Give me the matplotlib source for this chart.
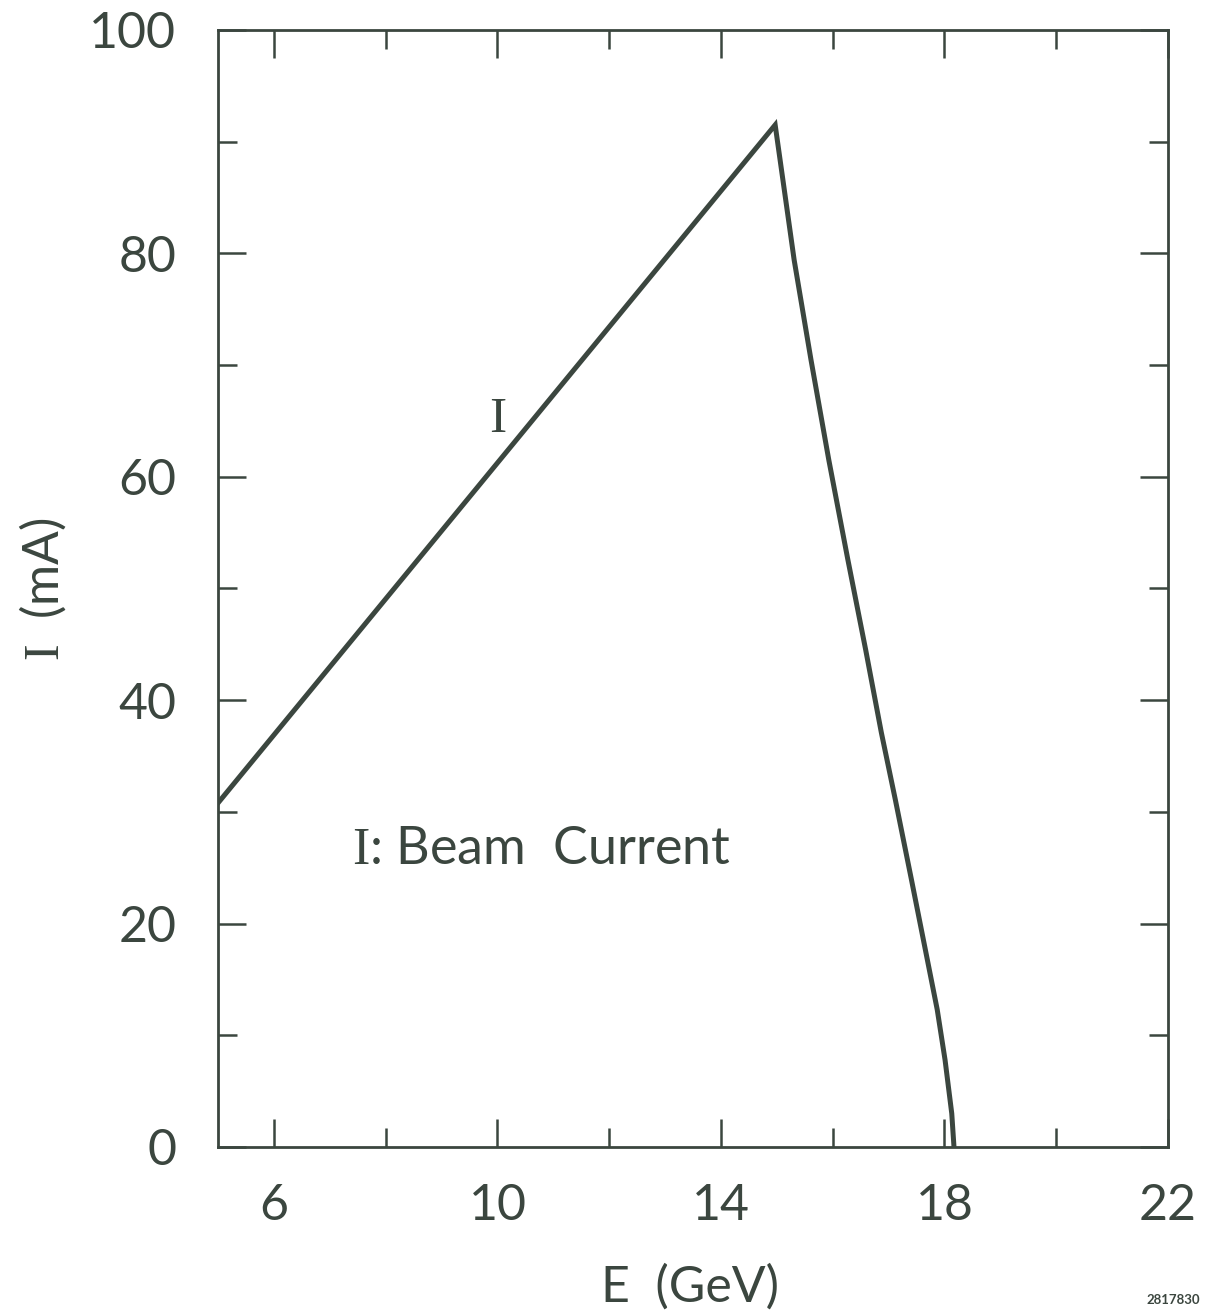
import matplotlib
matplotlib.use("Agg")
import matplotlib.pyplot as plt
from matplotlib.ticker import FixedLocator

# beam current vs energy
energy = [5.0, 14.97, 15.31, 15.61, 15.93, 16.27, 16.59, 16.87, 17.12,
          17.41, 17.66, 17.87, 18.01, 18.13, 18.17]
current = [30.8, 91.5, 79.4, 70.5, 61.5, 52.6, 44.5, 37.1, 31.1,
           23.9, 17.6, 12.3, 7.8, 3.0, 0.0]

x_major = [6, 10, 14, 18, 22]
x_minor = [8, 12, 16, 20]
x_labels = ["6", "10", "14", "18", "22"]
y_major = [0, 20, 40, 60, 80, 100]
y_minor = [10, 30, 50, 70, 90]

ink = "#3b463f"
plt.rcParams['font.family'] = ['Lato', 'DejaVu Sans']
plt.rcParams['mathtext.fontset'] = 'custom'
plt.rcParams['mathtext.rm'] = 'Liberation Serif'

fig = plt.figure(figsize=(12.06, 13.14), dpi=100)
ax = fig.add_axes([0.1808, 0.1271, 0.7877, 0.8501])

ax.plot(energy, current, color=ink, lw=3.6, solid_joinstyle='miter')

ax.set_xlim(5, 22)
ax.set_ylim(0, 100)
ax.xaxis.set_major_locator(FixedLocator(x_major))
ax.xaxis.set_minor_locator(FixedLocator(x_minor))
ax.set_xticklabels(x_labels)
ax.yaxis.set_major_locator(FixedLocator(y_major))
ax.yaxis.set_minor_locator(FixedLocator(y_minor))

for s in ax.spines.values():
    s.set_color(ink)
    s.set_linewidth(2.0)

ax.tick_params(which='both', direction='in', top=True, right=True,
               color=ink, width=1.8, labelcolor=ink, labelsize=36)
ax.tick_params(which='major', length=20)
ax.tick_params(which='minor', length=14)
ax.tick_params(axis='x', which='major', pad=26)
ax.tick_params(axis='y', which='major', pad=30)

ax.text(-0.185, 0.499, r"$\mathrm{I}$  (mA)", transform=ax.transAxes, rotation=90,
        ha='center', va='center', fontsize=36, color=ink)
ax.text(0.497, -0.126, "E  (GeV)", transform=ax.transAxes,
        ha='center', va='center', fontsize=36, color=ink)

ax.text(10.0, 65.3, r"$\mathrm{I}$", ha='center', va='center', fontsize=37, color=ink)
ax.text(7.4, 26.6, r"$\mathrm{I}$: Beam  Current", ha='left', va='center',
        fontsize=37.5, color=ink)

fig.text(0.995, 0.006, "2817830", ha='right', va='bottom', fontsize=9.5,
         fontweight='bold', color=ink)

fig.savefig("out.png", dpi=100, facecolor='white')
